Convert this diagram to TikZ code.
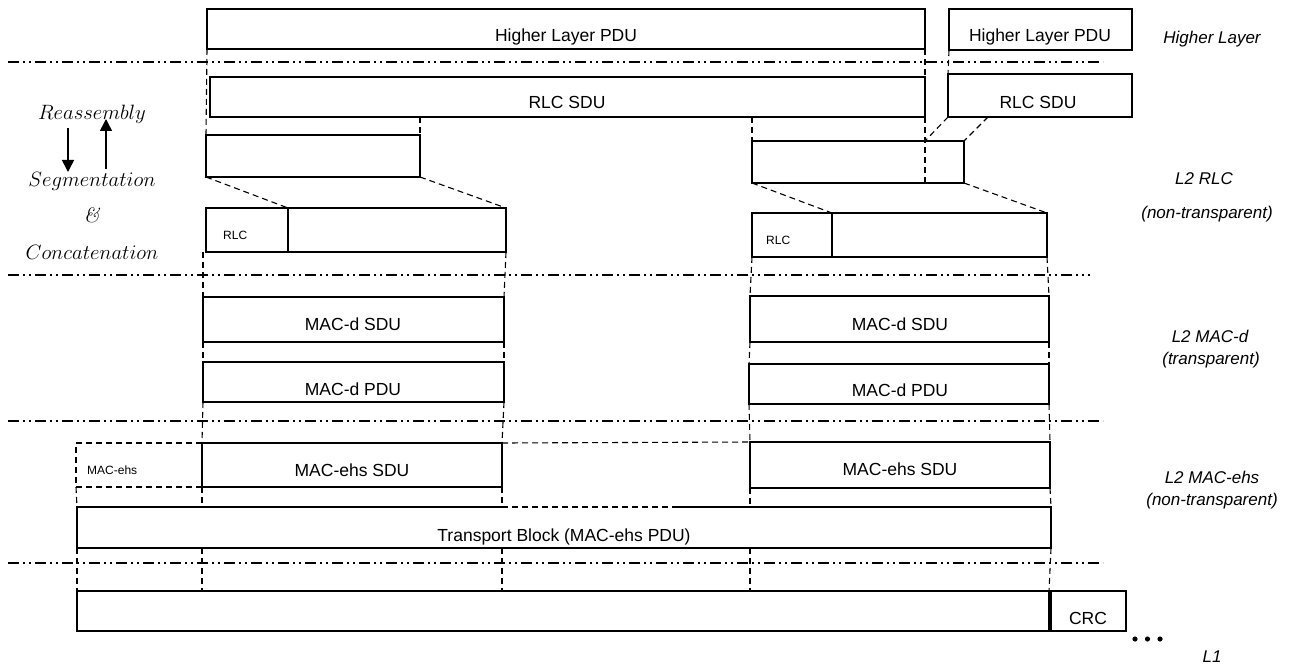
\documentclass[tikz,border=0pt]{standalone}
\usepackage{fontspec}
\usetikzlibrary{arrows.meta,calc}
\newfontfamily\arialf{Liberation Sans}
\tikzset{
  box/.style={draw, line width=1.4pt, inner sep=0pt, outer sep=0pt, anchor=north west},
  dbox/.style={box, dash pattern=on 6pt off 4pt, line width=1.2pt},
  lbl/.style={font=\arialf\fontsize{17.5}{20}\selectfont, anchor=base, inner sep=0pt},
  small/.style={font=\arialf\fontsize{12}{14}\selectfont, anchor=base west, inner sep=0pt},
  side/.style={font=\arialf\itshape\fontsize{17}{20}\selectfont, anchor=base, inner sep=0pt},
  proc/.style={font=\fontsize{20.74}{24}\selectfont, anchor=base, inner sep=0pt},
  conn/.style={line width=1.1pt, dash pattern=on 6pt off 4pt},
  sepline/.style={line width=1.3pt, dash pattern=on 11pt off 4pt on 2pt off 4pt on 2pt off 4pt},
  solidedge/.style={line width=1.4pt},
  arr/.style={line width=1.5pt, -{Triangle[length=12pt,width=12pt]}},
}
\begin{document}
\begin{tikzpicture}[x=1pt,y=-1pt]
\useasboundingbox (0,0) rectangle (1292,668);

% layer separators
\draw[sepline] (8,62) -- (1103,62);
\draw[sepline] (8,275) -- (1090,275);
\draw[sepline] (8,421) -- (1103,421);
\draw[sepline] (8,563) -- (1103,563);

% Higher layer
\node[box, minimum width=718pt, minimum height=40pt] (hl1) at (207,9) {};
\node[box, minimum width=183pt, minimum height=41pt] (hl2) at (949,9) {};
\node[lbl] (thl1) at (566,42) {Higher Layer PDU};
\node[lbl] (thl2) at (1040,42) {Higher Layer PDU};

% RLC SDUs
\node[box, minimum width=715pt, minimum height=40pt] (sdu1) at (210,77) {};
\node[box, minimum width=184pt, minimum height=43pt] (sdu2) at (948,74) {};
\node[lbl] (tsdu1) at (567,109) {RLC SDU};
\node[lbl] (tsdu2) at (1038,109) {RLC SDU};

% segments
\node[box, minimum width=214pt, minimum height=42pt] (seg1) at (206,135) {};
\node[box, minimum width=212pt, minimum height=42pt] (seg2) at (752,141) {};

% RLC PDUs
\node[box, minimum width=82pt, minimum height=44pt] (rh1) at (206,208) {};
\node[box, minimum width=218pt, minimum height=44pt] (rb1) at (288,208) {};
\node[box, minimum width=80pt, minimum height=44pt] (rh2) at (752,213) {};
\node[box, minimum width=215pt, minimum height=44pt] (rb2) at (832,213) {};
\node[small] (trh1) at (223,240) {RLC};
\node[small] (trh2) at (766,245) {RLC};

% MAC-d
\node[box, minimum width=301pt, minimum height=45pt] (mds1) at (203,297) {};
\node[box, minimum width=299pt, minimum height=46pt] (mds2) at (750,296) {};
\node[box, minimum width=301pt, minimum height=40pt] (mdp1) at (203,362) {};
\node[box, minimum width=300pt, minimum height=40pt] (mdp2) at (749,364) {};
\node[lbl] (tmds1) at (353,330) {MAC-d SDU};
\node[lbl] (tmds2) at (900,330) {MAC-d SDU};
\node[lbl] (tmdp1) at (353,395) {MAC-d PDU};
\node[lbl] (tmdp2) at (900,396) {MAC-d PDU};

% MAC-ehs
\node[dbox, minimum width=126pt, minimum height=44pt] (ehsh) at (76,443) {};
\node[small] (tehsh) at (87,474) {MAC-ehs};
\node[box, minimum width=300pt, minimum height=44pt] (ehs1) at (202,443) {};
\node[box, minimum width=300pt, minimum height=46pt] (ehs2) at (750,442) {};
\node[lbl] (tehs1) at (352,476) {MAC-ehs SDU};
\node[lbl] (tehs2) at (900,475) {MAC-ehs SDU};

% Transport block
\node[box, draw=none, minimum width=974pt, minimum height=41pt] (tb) at (77,507) {};
\coordinate (tbcut) at (677,507);
\draw[solidedge] (tb.north -| ehs1.east) -- (tb.north west) -- (tb.south west) -- (tb.south east) -- (tb.north east) -- (tbcut);
\draw[conn] (tb.north -| ehs1.east) -- (tbcut);
\node[lbl] (ttb) at (564,541) {Transport Block (MAC-ehs PDU)};

% L1
\node[box, minimum width=972pt, minimum height=40pt] (l1) at (77,591) {};
\node[box, minimum width=75pt, minimum height=40pt] (crc) at (1051,591) {};
\node[lbl] (tcrc) at (1088,624) {CRC};
\fill (1135,639) circle (2.6pt) (1147.5,639) circle (2.6pt) (1160,639) circle (2.6pt);

% dashed connectors, higher part
\draw[conn] (hl1.south west) -- (seg1.north west);
\draw[conn] (seg1.north east |- sdu1.south) -- (seg1.north east);
\draw[conn] (seg1.south west) -- (rb1.north west);
\draw[conn] (seg1.south east) -- (rb1.north east);
\draw[conn] (hl1.south east) -- (sdu1.north east);
\draw[conn] (sdu1.south east) -- (sdu1.south east |- seg2.south);
\draw[conn] (hl2.south west) -- (sdu2.north west);
\coordinate (s2a) at ($(sdu2.south west)+(40,0)$);
\draw[conn] (sdu2.south west) -- (seg2.north -| sdu1.east);
\draw[conn] (s2a) -- (seg2.north east);
\draw[conn] (seg2.north west |- sdu1.south) -- (seg2.north west);
\draw[conn] (seg2.south west) -- (rb2.north west);
\draw[conn] (seg2.south east) -- (rb2.north east);

% dashed connectors, left column
\draw[conn] (mds1.north west |- rh1.south) -- (mds1.north west);
\draw[conn] (mds1.south west) -- (mdp1.north west);
\draw[conn] (mdp1.south west) -- (ehs1.north west);
\draw[conn] (ehs1.south west) -- (ehs1.south west |- tb.north);
\draw[conn] (ehs1.south west |- tb.south) -- (ehs1.south west |- l1.north);
\draw[conn] (rb1.south east) -- (mds1.north east);
\draw[conn] (mds1.south east) -- (mdp1.north east);
\draw[conn] (mdp1.south east) -- (ehs1.north east);
\draw[conn] (ehs1.south east) -- (ehs1.south east |- tb.north);
\draw[conn] (ehs1.south east |- tb.south) -- (ehs1.south east |- l1.north);
\draw[conn] (ehs1.north east) -- (ehs2.north west);
\draw[conn] (ehsh.south west) -- (tb.north west);
\draw[conn] (tb.south west) -- (l1.north west);

% dashed connectors, right column
\draw[conn] (rh2.south west) -- (mds2.north west);
\draw[conn] (mds2.south west) -- (mdp2.north west);
\draw[conn] (mdp2.south west) -- (ehs2.north west);
\draw[conn] (ehs2.south west) -- (ehs2.south west |- tb.north);
\draw[conn] (ehs2.south west |- tb.south) -- (ehs2.south west |- l1.north);
\draw[conn] (rb2.south east) -- (mds2.north east);
\draw[conn] (mds2.south east) -- (mdp2.north east);
\draw[conn] (mdp2.south east) -- (ehs2.north east);
\draw[conn] (ehs2.south east) -- (tb.north east);
\draw[conn] (tb.south east) -- (l1.north east);

% left process labels
\node[proc] (treas) at (92,120) {$Reassembly$};
\node[proc] (tseg) at (92,187) {$Segmentation$};
\node[proc] (tamp) at (92,223) {\textit{\&}};
\node[proc] (tconc) at (92,260) {$Concatenation$};
\coordinate (d1) at (68,128);
\coordinate (d2) at (68,172);
\coordinate (u1) at (106,169);
\coordinate (u2) at (106,119);
\draw[arr] (d1) -- (d2);
\draw[arr] (u1) -- (u2);

% right layer labels
\node[side] (rhl) at (1212,44) {Higher Layer};
\node[side] (rrlc) at (1204,185) {L2 RLC};
\node[side] (rrlc2) at (1207,219) {(non-transparent)};
\node[side] (rmacd) at (1210,342) {L2 MAC-d};
\node[side] (rmacd2) at (1211,364) {(transparent)};
\node[side] (rehs) at (1212,483) {L2 MAC-ehs};
\node[side] (rehs2) at (1212,505) {(non-transparent)};
\node[side] (rl1) at (1212,662) {L1};
\end{tikzpicture}
\end{document}
